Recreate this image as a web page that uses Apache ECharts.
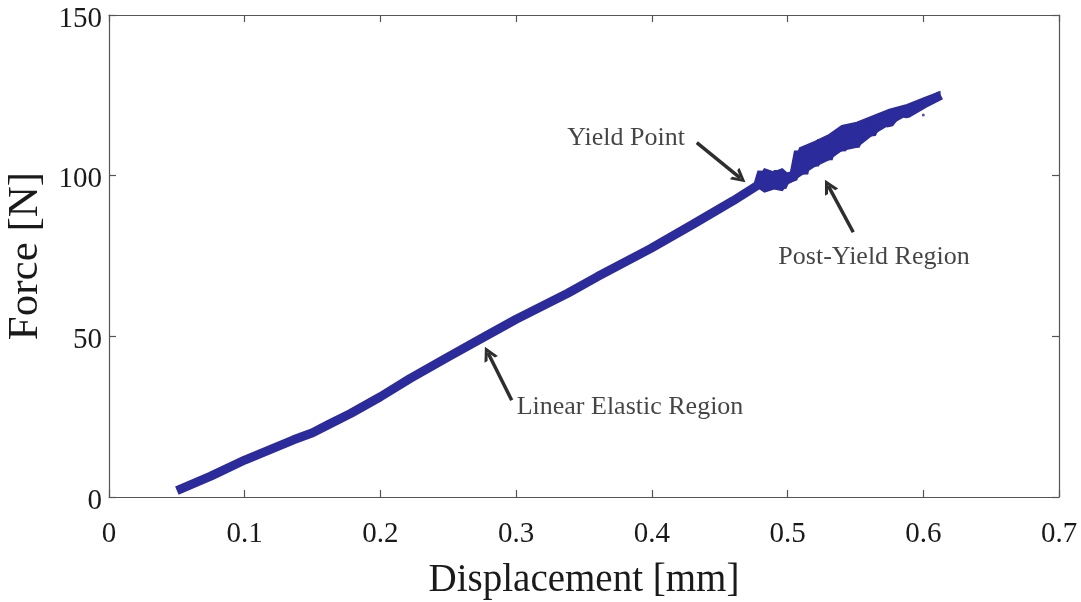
<!DOCTYPE html>
<html>
<head>
<meta charset="utf-8">
<title>Force vs Displacement</title>
<script src="https://cdn.jsdelivr.net/npm/echarts@6/dist/echarts.min.js"></script>
<style>
  html, body { margin: 0; padding: 0; background: #ffffff; }
  #chart { width: 1081px; height: 602px; }
</style>
</head>
<body>
<div id="chart"></div>
<script>
// Load test record: displacement [mm] and force [N]
const displacement = [
  0.050, 0.075, 0.100, 0.120, 0.136, 0.150, 0.162, 0.178, 0.200, 0.222, 0.250,
  0.276, 0.300, 0.338, 0.360, 0.399, 0.430, 0.460, 0.478,
  0.481, 0.484, 0.487, 0.490, 0.493, 0.496, 0.500, 0.504, 0.508, 0.512,
  0.516, 0.520, 0.525, 0.530, 0.535, 0.540, 0.545, 0.550, 0.556, 0.562,
  0.568, 0.575, 0.582, 0.588, 0.600, 0.613
];
const force = [
  2.0, 6.5, 11.5, 15.0, 17.8, 20.0, 22.6, 26.0, 31.2, 36.9, 43.6,
  49.7, 55.3, 63.4, 68.6, 77.3, 84.8, 92.2, 97.0,
  101.2, 95.8, 101.0, 96.6, 101.4, 96.4, 100.2, 98.8, 107.6, 100.6,
  109.2, 103.2, 111.0, 105.2, 113.0, 108.0, 115.0, 109.2, 116.0, 113.0,
  118.0, 116.2, 120.0, 119.2, 122.2, 125.0
];
// spread of the scatter past yield: lower and upper force at each displacement
const bandDisp = [0.478, 0.483, 0.490, 0.496, 0.500, 0.504, 0.509, 0.520, 0.530, 0.540, 0.551, 0.563, 0.575, 0.588, 0.600, 0.612];
const bandLow  = [96.5, 95.0, 96.0, 95.5, 97.5, 98.5, 100.0, 103.0, 105.0, 108.0, 109.0, 113.0, 116.0, 119.0, 121.5, 124.0];
const bandHigh = [98.5, 102.0, 101.0, 102.0, 100.5, 101.0, 108.5, 110.5, 112.5, 115.5, 116.5, 118.5, 120.5, 122.0, 124.0, 126.0];
// isolated sample off the main trace
const strayDisp = [0.600];
const strayForce = [118.9];

const xTickLabels = ['0', '0.1', '0.2', '0.3', '0.4', '0.5', '0.6', '0.7'];
const yTickLabels = ['0', '50', '100', '150'];

// annotation text anchors and arrows, in data units
const noteText = ['Yield Point', 'Post-Yield Region', 'Linear Elastic Region'];
const noteAt = [[0.381, 111.6], [0.5637, 74.5], [0.3839, 28.0]];
const arrowFrom = [[0.4331, 110.3], [0.5484, 82.4], [0.2967, 30.1]];
const arrowTo = [[0.4650, 99.3], [0.5300, 96.8], [0.2793, 44.8]];

const serif = '"Liberation Serif", "DejaVu Serif", serif';
const ink = '#2e2e2e';
const traceColor = '#2b2b9c';
const chevron = 'path://M0,13 L7,0 L14,13 L10.8,13 L7,5.8 L3.2,13 Z';

const trace = displacement.map((d, i) => [d, force[i]]);
const band = bandDisp.map((d, i) => [d, bandLow[i], bandHigh[i]]);
const stray = strayDisp.map((d, i) => [d, strayForce[i]]);
const notes = noteText.map((t, i) => [noteAt[i][0], noteAt[i][1], t]);
const arrows = arrowFrom.map((f, i) => [
  { coord: f, symbol: 'none' },
  { coord: arrowTo[i], symbol: chevron, symbolSize: [15, 14] }
]);

const frameAxis = {
  axisLine: { show: true, onZero: false, lineStyle: { color: '#555555', width: 1.2 } },
  axisTick: { show: true, inside: true, length: 7, lineStyle: { color: '#555555', width: 1.2 } },
  splitLine: { show: false }
};

const chart = echarts.init(document.getElementById('chart'), null, { renderer: 'canvas' });
chart.setOption({
  animation: false,
  backgroundColor: '#ffffff',
  grid: { left: 109, right: 22, top: 15, bottom: 105, containLabel: false, outerBoundsMode: 'none' },
  xAxis: [
    Object.assign({
      type: 'value', position: 'bottom', min: 0, max: 0.7, interval: 0.1,
      name: 'Displacement [mm]', nameLocation: 'middle', nameGap: 64,
      nameTextStyle: { fontFamily: serif, fontSize: 39, color: '#1a1a1a' },
      axisLabel: {
        margin: 23, fontFamily: serif, fontSize: 29, color: '#1a1a1a',
        formatter: v => xTickLabels[Math.round(v * 10)]
      }
    }, frameAxis),
    Object.assign({
      type: 'value', position: 'top', min: 0, max: 0.7, interval: 0.1,
      axisLabel: { show: false }
    }, frameAxis)
  ],
  yAxis: [
    Object.assign({
      type: 'value', position: 'left', min: 0, max: 150, interval: 50,
      name: 'Force [N]', nameLocation: 'middle', nameGap: 58, nameRotate: 90,
      nameTextStyle: { fontFamily: serif, fontSize: 43, color: '#1a1a1a' },
      axisLabel: {
        margin: 7, fontFamily: serif, fontSize: 29, color: '#1a1a1a',
        verticalAlign: 'top', lineHeight: 8,
        formatter: v => yTickLabels[Math.round(v / 50)]
      }
    }, frameAxis),
    Object.assign({
      type: 'value', position: 'right', min: 0, max: 150, interval: 50,
      axisLabel: { show: false }
    }, frameAxis)
  ],
  series: [
    {
      name: 'post-yield spread',
      type: 'custom',
      silent: true,
      data: band,
      renderItem: (params, api) => {
        if (params.dataIndex !== 0) return null;
        const upper = band.map(b => api.coord([b[0], b[2]]));
        const lower = band.map(b => api.coord([b[0], b[1]])).reverse();
        return {
          type: 'polygon',
          shape: { points: upper.concat(lower) },
          style: { fill: traceColor, stroke: traceColor, lineWidth: 2 }
        };
      }
    },
    {
      name: 'Force',
      type: 'line',
      data: trace,
      showSymbol: false,
      symbol: 'none',
      lineStyle: { color: traceColor, width: 9, join: 'bevel', cap: 'butt' },
      silent: true,
      markLine: {
        silent: true,
        animation: false,
        label: { show: false },
        lineStyle: { color: ink, width: 3.5, type: 'solid' },
        itemStyle: { color: ink },
        emphasis: { disabled: true },
        data: arrows
      }
    },
    {
      name: 'stray',
      type: 'scatter',
      data: stray,
      symbolSize: 3,
      itemStyle: { color: traceColor },
      silent: true
    },
    {
      name: 'notes',
      type: 'scatter',
      data: notes,
      symbolSize: 1,
      itemStyle: { color: 'rgba(0,0,0,0)' },
      silent: true,
      label: {
        show: true,
        position: 'inside',
        fontFamily: serif,
        fontSize: 26,
        color: '#151515',
        formatter: p => p.data[2]
      }
    }
  ]
});
</script>
</body>
</html>
